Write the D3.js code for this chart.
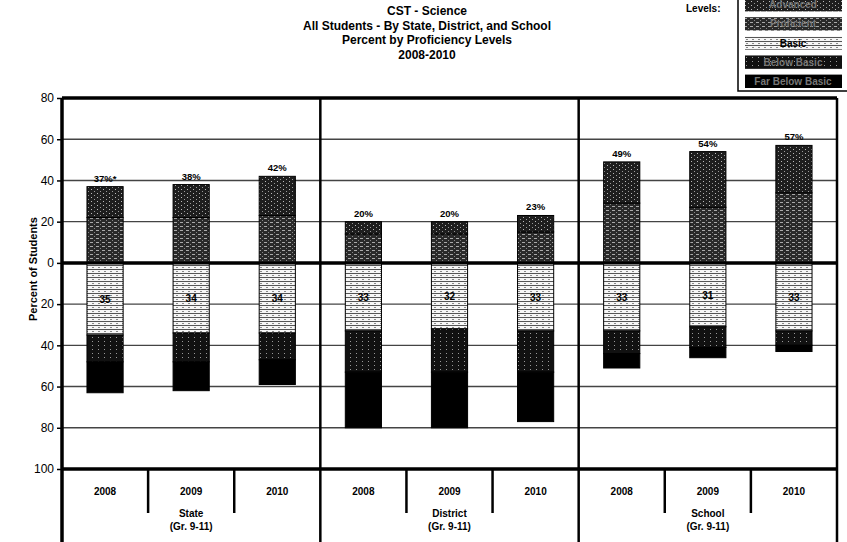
<!DOCTYPE html>
<html>
<head>
<meta charset="utf-8">
<script src="https://cdn.jsdelivr.net/npm/d3@7"></script>
<style>
  body { margin: 0; background: #fff; }
  svg { font-family: Arial, "Liberation Sans", sans-serif; }
</style>
</head>
<body>
<svg width="847" height="542"></svg>
<script>
// categories
const groups = ["State", "District", "School"];
const groupSub = "(Gr. 9-11)";
const years = ["2008", "2009", "2010"];

// series values, one per bar: State 08-10, District 08-10, School 08-10
const advanced = [15, 16, 19, 6, 6, 8, 20, 27, 23];
const proficient = [22, 22, 23, 14, 14, 15, 29, 27, 34];
const basic = [35, 34, 34, 33, 32, 33, 33, 31, 33];
const belowBasic = [13, 14, 13, 20, 21, 20, 11, 10, 7];
const farBelowBasic = [15, 14, 12, 27, 27, 24, 7, 5, 3];
const totalNotes = ["*", "", "", "", "", "", "", "", ""];

const levels = ["Advanced", "Proficient", "Basic", "Below Basic", "Far Below Basic"];
const yTicks = [-100, -80, -60, -40, -20, 0, 20, 40, 60, 80];
const titleLines = [
  "CST - Science",
  "All Students - By State, District, and School",
  "Percent by Proficiency Levels",
  "2008-2010"
];

const svg = d3.select("svg");

// patterns to look like the scanned stipple fills
const defs = svg.append("defs");
const pat = (id, bg, draw) => {
  const p = defs.append("pattern")
    .attr("id", id)
    .attr("patternUnits", "userSpaceOnUse")
    .attr("width", 6)
    .attr("height", 4);
  p.append("rect").attr("width", 6).attr("height", 4).attr("fill", bg);
  draw(p);
};
pat("p-adv", "#1e1e1e", (p) => {
  p.append("rect").attr("x", 1).attr("y", 1).attr("width", 1).attr("height", 1).attr("fill", "#bbb");
  p.append("rect").attr("x", 4).attr("y", 3).attr("width", 1).attr("height", 1).attr("fill", "#999");
});
pat("p-prof", "#2a2a2a", (p) => {
  p.append("rect").attr("x", 0).attr("y", 2).attr("width", 3).attr("height", 1).attr("fill", "#aaa");
  p.append("rect").attr("x", 4).attr("y", 0).attr("width", 1).attr("height", 1).attr("fill", "#888");
});
pat("p-basic", "#f6f6f6", (p) => {
  p.append("rect").attr("x", 0).attr("y", 1).attr("width", 6).attr("height", 1).attr("fill", "#555");
  p.append("rect").attr("x", 2).attr("y", 3).attr("width", 2).attr("height", 1).attr("fill", "#888");
});
pat("p-below", "#111", (p) => {
  p.append("rect").attr("x", 2).attr("y", 1).attr("width", 1).attr("height", 1).attr("fill", "#999");
});
const fills = {
  "Advanced": "url(#p-adv)",
  "Proficient": "url(#p-prof)",
  "Basic": "url(#p-basic)",
  "Below Basic": "url(#p-below)",
  "Far Below Basic": "#000"
};

// scales
const plotLeft = 62, plotRight = 837, plotTop = 98, plotBottom = 469;

const y = d3.scaleLinear()
    .domain([-100, 80])
    .range([plotBottom, plotTop]);

const xGroup = d3.scaleBand()
    .domain(groups)
    .range([plotLeft, plotRight]);

const xYear = d3.scaleBand()
    .domain(years)
    .range([0, xGroup.bandwidth()])
    .paddingInner(0.58)
    .paddingOuter(0.29);

// rows for stacking
const rows = groups.flatMap((g, gi) => years.map((yr, yi) => {
  const i = gi * 3 + yi;
  return {
    group: g, year: yr, i: i,
    "Advanced": advanced[i],
    "Proficient": proficient[i],
    "Basic": -basic[i],
    "Below Basic": -belowBasic[i],
    "Far Below Basic": -farBelowBasic[i]
  };
}));

const stack = d3.stack()
    .keys(["Basic", "Below Basic", "Far Below Basic", "Proficient", "Advanced"])
    .offset(d3.stackOffsetDiverging);
const series = stack(rows);

const barX = (d) => xGroup(d.group) + xYear(d.year);

// gridlines
svg.append("g")
  .selectAll("line")
  .data(yTicks)
  .join("line")
    .attr("x1", plotLeft)
    .attr("x2", plotRight)
    .attr("y1", (d) => y(d))
    .attr("y2", (d) => y(d))
    .attr("stroke", (d) => d === 0 ? "#000" : "#444")
    .attr("stroke-width", (d) => d === 0 ? 3 : 1.4);

// bars
svg.append("g")
  .selectAll("g")
  .data(series)
  .join("g")
    .attr("fill", (s) => fills[s.key])
  .selectAll("rect")
  .data((s) => s)
  .join("rect")
    .attr("x", (d) => barX(d.data))
    .attr("width", xYear.bandwidth())
    .attr("y", (d) => y(d[1]))
    .attr("height", (d) => y(d[0]) - y(d[1]))
    .attr("stroke", "#000")
    .attr("stroke-width", 1);

// redraw zero line over bars
svg.append("line")
    .attr("x1", plotLeft).attr("x2", plotRight)
    .attr("y1", y(0)).attr("y2", y(0))
    .attr("stroke", "#000").attr("stroke-width", 3);

// total labels above bars
svg.append("g")
  .selectAll("text")
  .data(rows)
  .join("text")
    .attr("x", (d) => barX(d) + xYear.bandwidth() / 2)
    .attr("y", (d) => y(d.Advanced + d.Proficient) - 5)
    .attr("text-anchor", "middle")
    .attr("font-size", 9.5)
    .attr("font-weight", "bold")
    .text((d) => (d.Advanced + d.Proficient) + "%" + totalNotes[d.i]);

// basic labels
svg.append("g")
  .selectAll("text")
  .data(rows)
  .join("text")
    .attr("x", (d) => barX(d) + xYear.bandwidth() / 2)
    .attr("y", (d) => y(d.Basic / 2) + 4)
    .attr("text-anchor", "middle")
    .attr("font-size", 10)
    .attr("font-weight", "bold")
    .text((d) => -d.Basic);

// y axis
const yAxis = svg.append("g")
    .attr("transform", `translate(${plotLeft},0)`)
    .call(d3.axisLeft(y)
      .tickValues(yTicks)
      .tickFormat((d) => Math.abs(d))
      .tickSize(5)
      .tickPadding(3));
yAxis.select(".domain").remove();
yAxis.selectAll("line").attr("stroke-width", 1.5);
yAxis.selectAll("text")
    .attr("font-size", 12)
    .attr("font-family", "Arial, 'Liberation Sans', sans-serif")
    .attr("fill", "#000");

svg.append("text")
    .attr("transform", `translate(37,${y(-3)}) rotate(-90)`)
    .attr("text-anchor", "middle")
    .attr("font-size", 11)
    .attr("font-weight", "bold")
    .text("Percent of Students");

// frame
const frame = svg.append("g").attr("stroke", "#000").attr("fill", "none");
frame.append("line").attr("x1", plotLeft).attr("x2", plotRight).attr("y1", plotTop).attr("y2", plotTop).attr("stroke-width", 3.5);
frame.append("line").attr("x1", plotLeft).attr("x2", plotRight).attr("y1", plotBottom).attr("y2", plotBottom).attr("stroke-width", 3.5);
frame.selectAll(".vline")
  .data([plotLeft, xGroup("District"), xGroup("School"), plotRight])
  .join("line")
    .attr("x1", (d) => d).attr("x2", (d) => d)
    .attr("y1", plotTop).attr("y2", 542)
    .attr("stroke-width", (d, i) => i === 0 ? 3.5 : 2.5);

// year separators
frame.selectAll(".ysep")
  .data(groups.flatMap((g) => years.slice(1).map((yr) => xGroup(g) + xYear(yr) - xYear.step() * xYear.paddingInner() / 2)))
  .join("line")
    .attr("x1", (d) => d).attr("x2", (d) => d)
    .attr("y1", plotBottom).attr("y2", 513)
    .attr("stroke-width", 2.5);

// year labels
svg.append("g")
  .selectAll("text")
  .data(rows)
  .join("text")
    .attr("x", (d) => barX(d) + xYear.bandwidth() / 2)
    .attr("y", 495)
    .attr("text-anchor", "middle")
    .attr("font-size", 10)
    .attr("font-weight", "bold")
    .text((d) => d.year);

// group labels
const gl = svg.append("g")
  .selectAll("text")
  .data(groups)
  .join("text")
    .attr("x", (d) => xGroup(d) + xGroup.bandwidth() / 2)
    .attr("y", 517)
    .attr("text-anchor", "middle")
    .attr("font-size", 10)
    .attr("font-weight", "bold");
gl.append("tspan").text((d) => d);
gl.append("tspan")
    .attr("x", (d) => xGroup(d) + xGroup.bandwidth() / 2)
    .attr("dy", 13)
    .text(groupSub);

// title
svg.append("g")
  .selectAll("text")
  .data(titleLines)
  .join("text")
    .attr("x", 427)
    .attr("y", (d, i) => 15 + i * 14.5)
    .attr("text-anchor", "middle")
    .attr("font-size", 12)
    .attr("font-weight", "bold")
    .text((d) => d);

// legend
const legend = svg.append("g");
legend.append("text")
    .attr("x", 686)
    .attr("y", 12)
    .attr("font-size", 10)
    .attr("font-weight", "bold")
    .text("Levels:");
legend.append("rect")
    .attr("x", 738).attr("y", -5)
    .attr("width", 120).attr("height", 96)
    .attr("fill", "#fff")
    .attr("stroke", "#000")
    .attr("stroke-width", 1.5);
const legendY = d3.scaleBand()
    .domain(levels)
    .range([-2, 88])
    .paddingInner(0.3);
const li = legend.selectAll("g.item")
  .data(levels)
  .join("g")
    .attr("class", "item");
li.append("rect")
    .attr("x", 745)
    .attr("y", (d) => legendY(d))
    .attr("width", 97)
    .attr("height", legendY.bandwidth())
    .attr("fill", (d) => fills[d]);
li.append("text")
    .attr("x", 793)
    .attr("y", (d) => legendY(d) + legendY.bandwidth() / 2 + 3.5)
    .attr("text-anchor", "middle")
    .attr("font-size", 10)
    .attr("font-weight", "bold")
    .attr("fill", (d) => d === "Basic" ? "#000" : "#777")
    .text((d) => d);
</script>
</body>
</html>
